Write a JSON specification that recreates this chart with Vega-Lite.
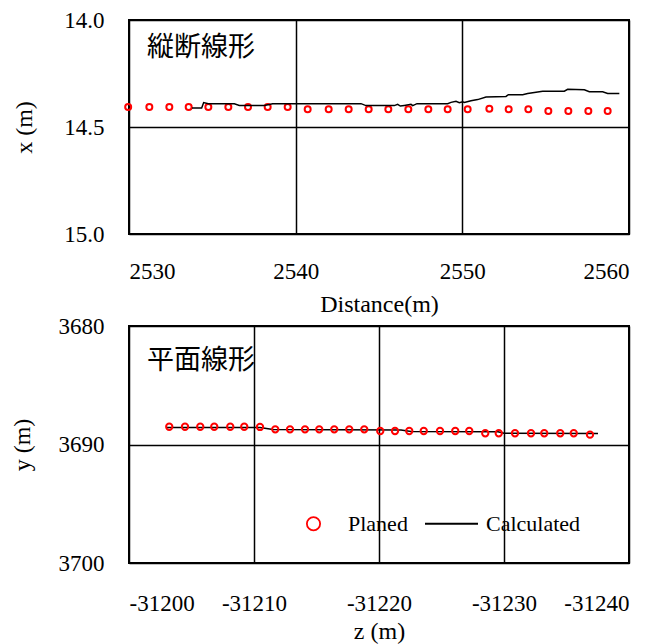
{
  "$schema": "https://vega.github.io/schema/vega-lite/v6.json",
  "background": "white",
  "padding": {"left": 9, "top": 8, "right": 5, "bottom": 0},
  "config": {
    "view": {"stroke": "black", "strokeWidth": 2},
    "font": "'Liberation Serif', 'DejaVu Serif', serif",
    "axis": {
      "domain": false, "ticks": false, "grid": true,
      "gridColor": "black", "gridWidth": 1.5, "gridOpacity": 1,
      "labelFont": "'Liberation Serif', 'DejaVu Serif', serif", "labelFontSize": 23, "labelColor": "black",
      "titleFont": "'Liberation Serif', 'DejaVu Serif', serif", "titleFontSize": 24, "titleFontWeight": "normal", "titleColor": "black",
      "labelExpr": "'' + datum.value"
    },
    "axisY": {"labelPadding": 25},
    "legend": {
      "orient": "none", "legendX": 157, "legendY": 476, "direction": "horizontal",
      "symbolSize": 2809, "symbolStrokeWidth": 1.8, "labelFont": "'Liberation Serif', 'DejaVu Serif', serif",
      "labelFontSize": 22, "labelColor": "black", "labelOffset": 7, "columnPadding": 13
    }
  },
  "datasets": {
    "profilePlaned": [
      {"distance": 2529.95, "x": 14.407}, {"distance": 2531.22, "x": 14.407}, {"distance": 2532.42, "x": 14.406},
      {"distance": 2533.58, "x": 14.407}, {"distance": 2534.76, "x": 14.407}, {"distance": 2535.96, "x": 14.407},
      {"distance": 2537.14, "x": 14.407}, {"distance": 2538.32, "x": 14.407}, {"distance": 2539.52, "x": 14.407},
      {"distance": 2540.72, "x": 14.417}, {"distance": 2541.98, "x": 14.417}, {"distance": 2543.18, "x": 14.417},
      {"distance": 2544.38, "x": 14.417}, {"distance": 2545.56, "x": 14.417}, {"distance": 2546.76, "x": 14.417},
      {"distance": 2547.96, "x": 14.417}, {"distance": 2549.12, "x": 14.417}, {"distance": 2550.32, "x": 14.417},
      {"distance": 2551.62, "x": 14.415}, {"distance": 2552.78, "x": 14.417}, {"distance": 2553.96, "x": 14.417},
      {"distance": 2555.16, "x": 14.425}, {"distance": 2556.36, "x": 14.425}, {"distance": 2557.56, "x": 14.425},
      {"distance": 2558.72, "x": 14.425}
    ],
    "profileCalc": [
      {"distance": 2533.78, "x": 14.411}, {"distance": 2534.36, "x": 14.411}, {"distance": 2534.48, "x": 14.386},
      {"distance": 2534.76, "x": 14.391}, {"distance": 2536.32, "x": 14.391}, {"distance": 2536.62, "x": 14.399},
      {"distance": 2538.12, "x": 14.399}, {"distance": 2538.62, "x": 14.391}, {"distance": 2543.92, "x": 14.391},
      {"distance": 2544.22, "x": 14.4}, {"distance": 2545.92, "x": 14.4}, {"distance": 2546.12, "x": 14.394},
      {"distance": 2546.28, "x": 14.402}, {"distance": 2546.52, "x": 14.399}, {"distance": 2546.92, "x": 14.394},
      {"distance": 2547.02, "x": 14.4}, {"distance": 2547.28, "x": 14.391}, {"distance": 2549.12, "x": 14.391},
      {"distance": 2549.32, "x": 14.385}, {"distance": 2549.62, "x": 14.38}, {"distance": 2549.82, "x": 14.386},
      {"distance": 2550.02, "x": 14.382}, {"distance": 2550.12, "x": 14.385}, {"distance": 2550.52, "x": 14.377},
      {"distance": 2550.92, "x": 14.372}, {"distance": 2551.42, "x": 14.36}, {"distance": 2552.62, "x": 14.357},
      {"distance": 2552.76, "x": 14.349}, {"distance": 2553.62, "x": 14.349}, {"distance": 2553.92, "x": 14.343},
      {"distance": 2554.82, "x": 14.333}, {"distance": 2556.12, "x": 14.333}, {"distance": 2556.32, "x": 14.324},
      {"distance": 2557.32, "x": 14.326}, {"distance": 2557.62, "x": 14.335}, {"distance": 2558.42, "x": 14.335},
      {"distance": 2558.72, "x": 14.343}, {"distance": 2559.42, "x": 14.343}
    ],
    "planPlaned": [
      {"z": -31203.22, "y": 3688.5, "series": "Planed"}, {"z": -31204.48, "y": 3688.5, "series": "Planed"},
      {"z": -31205.7, "y": 3688.5, "series": "Planed"}, {"z": -31206.82, "y": 3688.5, "series": "Planed"},
      {"z": -31208.1, "y": 3688.5, "series": "Planed"}, {"z": -31209.22, "y": 3688.5, "series": "Planed"},
      {"z": -31210.48, "y": 3688.52, "series": "Planed"}, {"z": -31211.7, "y": 3688.72, "series": "Planed"},
      {"z": -31212.88, "y": 3688.72, "series": "Planed"}, {"z": -31214.08, "y": 3688.72, "series": "Planed"},
      {"z": -31215.22, "y": 3688.72, "series": "Planed"}, {"z": -31216.42, "y": 3688.72, "series": "Planed"},
      {"z": -31217.62, "y": 3688.72, "series": "Planed"}, {"z": -31218.82, "y": 3688.72, "series": "Planed"},
      {"z": -31220.1, "y": 3688.86, "series": "Planed"}, {"z": -31221.28, "y": 3688.86, "series": "Planed"},
      {"z": -31222.42, "y": 3688.86, "series": "Planed"}, {"z": -31223.58, "y": 3688.86, "series": "Planed"},
      {"z": -31224.88, "y": 3688.86, "series": "Planed"}, {"z": -31226.1, "y": 3688.86, "series": "Planed"},
      {"z": -31227.22, "y": 3688.86, "series": "Planed"}, {"z": -31228.5, "y": 3689.05, "series": "Planed"},
      {"z": -31229.58, "y": 3689.05, "series": "Planed"}, {"z": -31230.88, "y": 3689.05, "series": "Planed"},
      {"z": -31232.16, "y": 3689.05, "series": "Planed"}, {"z": -31233.22, "y": 3689.05, "series": "Planed"},
      {"z": -31234.5, "y": 3689.05, "series": "Planed"}, {"z": -31235.58, "y": 3689.05, "series": "Planed"},
      {"z": -31236.88, "y": 3689.17, "series": "Planed"}
    ],
    "planCalc": [
      {"z": -31202.96, "y": 3688.57, "series": "Calculated"}, {"z": -31210.48, "y": 3688.57, "series": "Calculated"},
      {"z": -31211.52, "y": 3688.73, "series": "Calculated"}, {"z": -31221.76, "y": 3688.78, "series": "Calculated"},
      {"z": -31222.56, "y": 3688.9, "series": "Calculated"}, {"z": -31229.52, "y": 3688.93, "series": "Calculated"},
      {"z": -31230.0, "y": 3689.05, "series": "Calculated"}, {"z": -31237.52, "y": 3689.07, "series": "Calculated"}
    ]
  },
  "resolve": {"scale": {"x": "independent", "y": "independent"}},
  "bounds": "flush",
  "spacing": 92,
  "vconcat": [
    {
      "width": 500, "height": 214,
      "layer": [
        {
          "data": {"name": "profilePlaned"},
          "mark": {"type": "point", "shape": "circle", "filled": false, "color": "red", "size": 36, "strokeWidth": 2, "opacity": 1},
          "encoding": {
            "x": {"field": "distance", "type": "quantitative", "scale": {"domain": [2530, 2560], "nice": false},
              "axis": {"values": [2530, 2540, 2550, 2560], "title": "Distance(m)", "labelPadding": 26, "titlePadding": 9}},
            "y": {"field": "x", "type": "quantitative", "scale": {"domain": [14, 15], "reverse": true, "nice": false, "zero": false},
              "axis": {"values": [14, 14.5, 15], "labelExpr": "format(datum.value, '.1f')", "title": "x (m)", "titlePadding": 27}}
          }
        },
        {
          "data": {"name": "profileCalc"},
          "mark": {"type": "line", "color": "black", "strokeWidth": 1.5},
          "encoding": {
            "x": {"field": "distance", "type": "quantitative"},
            "y": {"field": "x", "type": "quantitative"}
          }
        },
        {
          "data": {"values": [{}]},
          "mark": {"type": "text", "font": "Noto Sans CJK JP", "fontSize": 27, "align": "left", "baseline": "middle", "color": "black"},
          "encoding": {"x": {"datum": 2531.08}, "y": {"datum": 14.131}, "text": {"value": "縦断線形"}}
        }
      ]
    },
    {
      "width": 500, "height": 237,
      "layer": [
        {
          "data": {"name": "planCalc"},
          "mark": {"type": "line", "strokeWidth": 1.5},
          "encoding": {
            "x": {"field": "z", "type": "quantitative"},
            "y": {"field": "y", "type": "quantitative"},
            "stroke": {"field": "series", "type": "nominal", "scale": {"domain": ["Planed", "Calculated"], "range": ["red", "black"]}}
          }
        },
        {
          "data": {"name": "planPlaned"},
          "mark": {"type": "point", "filled": false, "size": 640, "strokeWidth": 2, "opacity": 1},
          "encoding": {
            "x": {"field": "z", "type": "quantitative", "scale": {"domain": [-31240, -31200], "reverse": true, "nice": false, "zero": false},
              "axis": {"values": [-31200, -31210, -31220, -31230, -31240], "title": "z (m)", "labelPadding": 29, "titlePadding": 4}},
            "y": {"field": "y", "type": "quantitative", "scale": {"domain": [3680, 3700], "reverse": true, "nice": false, "zero": false},
              "axis": {"values": [3680, 3690, 3700], "title": "y (m)", "titlePadding": 24}},
            "stroke": {"field": "series", "type": "nominal", "scale": {"domain": ["Planed", "Calculated"], "range": ["red", "black"]},
              "legend": {"title": null}},
            "shape": {"field": "series", "type": "nominal", "scale": {"domain": ["Planed", "Calculated"], "range": ["M-0.25,0A0.25,0.25 0 1,0 0.25,0A0.25,0.25 0 1,0 -0.25,0Z", "M-1,0H1"]},
              "legend": {"title": null}}
          }
        },
        {
          "data": {"values": [{}]},
          "mark": {"type": "text", "font": "Noto Sans CJK JP", "fontSize": 27, "align": "left", "baseline": "middle", "color": "black"},
          "encoding": {"x": {"datum": -31201.44}, "y": {"datum": 3682.95}, "text": {"value": "平面線形"}}
        }
      ]
    }
  ]
}
